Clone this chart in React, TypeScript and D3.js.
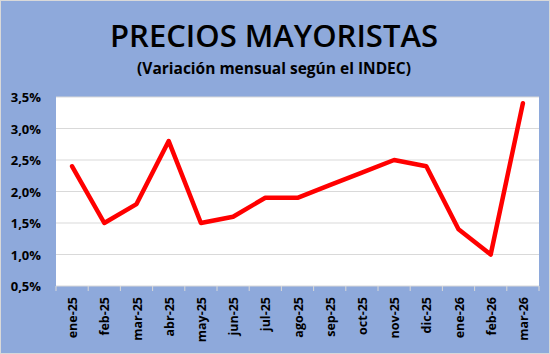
import * as d3 from 'd3'

const months = [
  'ene-25', 'feb-25', 'mar-25', 'abr-25', 'may-25', 'jun-25', 'jul-25', 'ago-25',
  'sep-25', 'oct-25', 'nov-25', 'dic-25', 'ene-26', 'feb-26', 'mar-26',
]
const values = [2.4, 1.5, 1.8, 2.8, 1.5, 1.6, 1.9, 1.9, 2.1, 2.3, 2.5, 2.4, 1.4, 1.0, 3.4]
const yTicks = [0.5, 1.0, 1.5, 2.0, 2.5, 3.0, 3.5]

export default function App() {
  const width = 550
  const height = 354
  const margin = { top: 97, right: 11, bottom: 68, left: 56 }
  const font = "'Open Sans', 'Liberation Sans', sans-serif"

  const x = d3
    .scaleBand<string>()
    .domain(months)
    .range([margin.left, width - margin.right])
  const y = d3
    .scaleLinear()
    .domain([0.5, 3.5])
    .range([height - margin.bottom, margin.top])

  const line = d3
    .line<number>()
    .x((_, i) => (x(months[i]) ?? 0) + x.bandwidth() / 2)
    .y((v) => y(v))

  const fmt = (v: number) => `${v.toFixed(1).replace('.', ',')}%`
  const bottom = height - margin.bottom

  return (
    <svg
      width={width}
      height={height}
      style={{ position: 'absolute', left: 0, top: 0, display: 'block' }}
    >
      <rect x={0} y={0} width={width} height={height} fill="#8EA9DB" />
      <rect x={0.5} y={0.5} width={width - 1} height={height - 1} fill="none" stroke="#d9d9d9" />
      <text x={274} y={47} textAnchor="middle" fontFamily={font} fontWeight="600" fontSize="31" fill="#000">
        PRECIOS MAYORISTAS
      </text>
      <text x={274} y={74} textAnchor="middle" fontFamily={font} fontWeight="700" fontSize="15.5" fill="#000">
        (Variación mensual según el INDEC)
      </text>

      <rect
        x={margin.left}
        y={margin.top}
        width={width - margin.left - margin.right}
        height={bottom - margin.top}
        fill="#fff"
      />

      {yTicks.map((t) => (
        <g key={t}>
          {t > 0.5 && (
            <line x1={margin.left} x2={width - margin.right} y1={y(t)} y2={y(t)} stroke="#d9d9d9" strokeWidth="1" />
          )}
          <text
            x={41}
            y={y(t) + 5}
            textAnchor="end"
            fontFamily={font}
            fontWeight="700"
            fontSize="13"
            fill="#000"
          >
            {fmt(t)}
          </text>
        </g>
      ))}

      <line x1={margin.left} x2={width - margin.right} y1={bottom} y2={bottom} stroke="#d9d9d9" />
      {months.map((m) => (
        <line key={`t-${m}`} x1={x(m) ?? 0} x2={x(m) ?? 0} y1={bottom} y2={bottom + 5} stroke="#d9d9d9" />
      ))}
      <line x1={width - margin.right} x2={width - margin.right} y1={bottom} y2={bottom + 5} stroke="#d9d9d9" />

      {months.map((m) => {
        const cx = (x(m) ?? 0) + x.bandwidth() / 2
        return (
          <text
            key={m}
            transform={`translate(${cx + 5},${bottom + 11}) rotate(-90)`}
            textAnchor="end"
            fontFamily={font}
            fontWeight="700"
            fontSize="12.5"
            fill="#000"
          >
            {m}
          </text>
        )
      })}

      <path
        d={line(values) ?? ''}
        fill="none"
        stroke="#ff0000"
        strokeWidth="4.5"
        strokeLinejoin="round"
        strokeLinecap="round"
      />
    </svg>
  )
}
